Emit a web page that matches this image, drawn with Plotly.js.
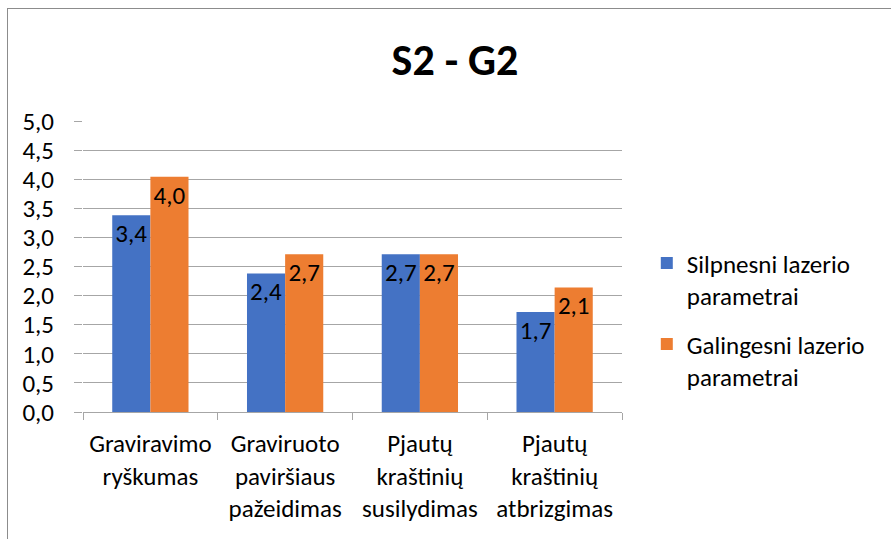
<!DOCTYPE html>
<html>
<head>
<meta charset="utf-8">
<script src="https://cdn.plot.ly/plotly-3.0.1.min.js"></script>
<style>
  html, body { margin: 0; padding: 0; background: #fff; }
  #wrap { position: relative; width: 891px; height: 539px; }
  #chart { width: 891px; height: 539px; }
  #frame { position: absolute; left: 7px; top: 8px; right: -10px; bottom: -10px;
           border-left: 1px solid #8c8c8c; border-top: 1px solid #8c8c8c; pointer-events: none; }
</style>
</head>
<body>
<div id="wrap">
  <div id="chart"></div>
  <div id="frame"></div>
</div>
<script>
const categories = [
  "Graviravimo<br>ryškumas",
  "Graviruoto<br>paviršiaus<br>pažeidimas",
  "Pjautų<br>kraštinių<br>susilydimas",
  "Pjautų<br>kraštinių<br>atbrizgimas"
];
const seriesNames = ["Silpnesni lazerio<br>parametrai", "Galingesni lazerio<br>parametrai"];
const silpnesni = [3.38, 2.38, 2.71, 1.72];
const galingesni = [4.04, 2.71, 2.71, 2.14];
const chartTitle = "S2 - G2";

const FONT = "Carlito, Lato, 'DejaVu Sans', sans-serif";

function barTrace(name, values, color, group) {
  return {
    type: "bar",
    name: name,
    x: categories,
    y: values,
    legendgroup: group,
    marker: { color: color, line: { width: 0 } },
    texttemplate: "%{y:.1f}",
    textposition: "inside",
    insidetextanchor: "end",
    textangle: 0,
    constraintext: "none",
    textfont: { family: FONT, size: 25, color: "#000" },
    hoverinfo: "skip"
  };
}

const data = [
  barTrace(seriesNames[0], silpnesni, "#4472C4", "a"),
  barTrace(seriesNames[1], galingesni, "#ED7D31", "b")
];

const layout = {
  width: 891,
  height: 539,
  margin: { l: 83, r: 269, t: 121, b: 127 },
  paper_bgcolor: "#fff",
  plot_bgcolor: "#fff",
  separators: ",.",
  font: { family: FONT, size: 25, color: "#000" },
  title: {
    text: "<b>" + chartTitle + "</b>",
    font: { family: FONT, size: 44, color: "#000" },
    x: 455 / 891, xanchor: "center", xref: "container",
    y: 1 - 60 / 539, yanchor: "middle", yref: "container"
  },
  barmode: "group",
  bargap: 0.434,
  bargroupgap: 0,
  showlegend: true,
  legend: {
    x: 1.046, xanchor: "left",
    y: 0.59, yanchor: "top",
    valign: "top",
    traceorder: "grouped",
    tracegroupgap: 13,
    font: { family: FONT, size: 25, color: "#000" },
    bgcolor: "rgba(0,0,0,0)"
  },
  xaxis: {
    type: "category",
    showline: true, linecolor: "#a6a6a6", linewidth: 1,
    ticks: "outside", tickson: "boundaries", ticklen: 7, tickcolor: "#a6a6a6",
    ticklabelstandoff: 9,
    showgrid: false,
    tickfont: { family: FONT, size: 25, color: "#000" },
    fixedrange: true
  },
  yaxis: {
    range: [0, 5],
    dtick: 0.5,
    tick0: 0,
    tickformat: ".1f",
    showline: false,
    zeroline: false,
    showgrid: true, gridcolor: "#a6a6a6", gridwidth: 1,
    ticks: "outside", ticklen: 8, tickcolor: "#a6a6a6",
    ticklabelstandoff: 15,
    tickfont: { family: FONT, size: 25, color: "#000" },
    fixedrange: true
  }
};

Plotly.newPlot("chart", data, layout, { displayModeBar: false, staticPlot: true });
</script>
</body>
</html>
